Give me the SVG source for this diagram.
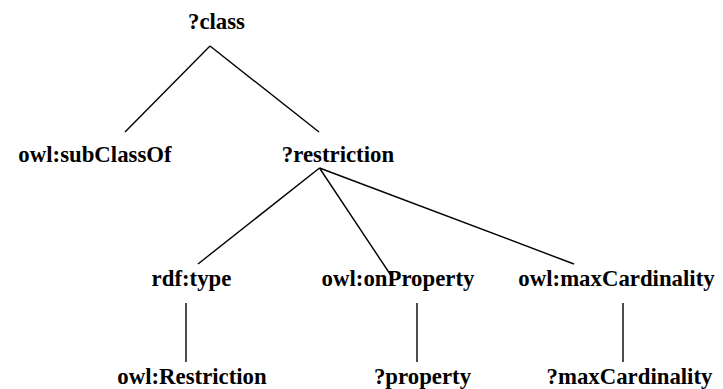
<svg xmlns="http://www.w3.org/2000/svg" width="723" height="389" viewBox="0 0 723 389">
<style>
.e line{stroke:#000;stroke-width:1.4;fill:none}
text{font-family:'Liberation Serif','Times New Roman',serif;font-weight:bold;font-size:22.8px;text-anchor:middle;fill:#000}
</style>
<rect width="723" height="389" fill="#fff"/>
<g class="e" id="connectors">
<line x1="210" y1="46" x2="125" y2="132"/>
<line x1="210" y1="46" x2="319" y2="132"/>
<line x1="319.5" y1="168" x2="198" y2="264"/>
<line x1="319.5" y1="168" x2="392" y2="277"/>
<line x1="319.5" y1="168" x2="574" y2="264"/>
<line x1="186" y1="303" x2="186" y2="362"/>
<line x1="417" y1="303" x2="417" y2="362"/>
<line x1="623" y1="303" x2="623" y2="362"/>
</g>
<g id="n-class"><text x="216.5" y="29">?class</text></g>
<g id="n-subClassOf"><text x="95" y="162">owl:subClassOf</text></g>
<g id="n-restriction"><text x="338" y="162">?restriction</text></g>
<g id="n-rdftype"><text x="191.5" y="286">rdf:type</text></g>
<g id="n-onProperty"><text x="398" y="286">owl:onProperty</text></g>
<g id="n-maxCardinality"><text x="616.5" y="286">owl:maxCardinality</text></g>
<g id="n-Restriction"><text x="192" y="384">owl:Restriction</text></g>
<g id="n-property"><text x="422.5" y="384">?property</text></g>
<g id="n-maxCard"><text x="629.5" y="384">?maxCardinality</text></g>
</svg>
